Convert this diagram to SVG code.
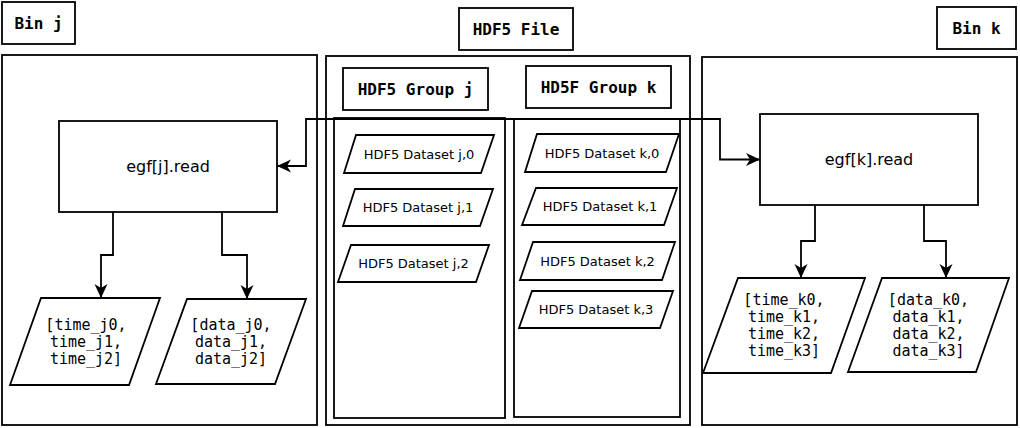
<svg xmlns="http://www.w3.org/2000/svg" width="1020" height="428" viewBox="0 0 1020 428">
<style>
.b{fill:#fff;stroke:#000;stroke-width:1.8}
.c{fill:none;stroke:#000;stroke-width:1.8}
.lb{font-family:"DejaVu Sans Mono",monospace;font-weight:bold;font-size:16px;fill:#000;text-anchor:middle;dominant-baseline:central}
.m{font-family:"DejaVu Sans Mono",monospace;font-size:15px;fill:#000;text-anchor:middle;dominant-baseline:central}
.s{font-family:"DejaVu Sans",sans-serif;font-size:16px;fill:#000;text-anchor:middle;dominant-baseline:central}
.d{font-family:"DejaVu Sans",sans-serif;font-size:13px;fill:#000;text-anchor:middle;dominant-baseline:central}
</style>
<defs>
<marker id="ar" markerUnits="userSpaceOnUse" markerWidth="16" markerHeight="16" viewBox="-15 -8 16 16" refX="0" refY="0" orient="auto">
<path d="M0,0 L-14,-6.5 L-10,0 L-14,6.5 Z" fill="#000"/>
</marker>
</defs>
<rect width="1020" height="428" fill="#fff"/>
<g id="bin-j">
<rect class="b" x="2" y="55" width="315" height="370"/>
</g>
<g id="bin-j-label"><rect class="b" x="2" y="2" width="73" height="42"/><text class="lb" x="38.5" y="23">Bin j</text></g>
<g id="hdf5-file">
<rect class="b" x="326" y="56" width="364" height="369"/>
</g>
<g id="hdf5-file-label"><rect class="b" x="459" y="8" width="114" height="42"/><text class="lb" x="516" y="29">HDF5 File</text></g>
<g id="bin-k">
<rect class="b" x="702" y="57" width="315" height="368"/>
</g>
<g id="bin-k-label"><rect class="b" x="937" y="7" width="79" height="42"/><text class="lb" x="976.5" y="28">Bin k</text></g>
<g id="group-j"><rect class="b" x="334" y="118" width="171" height="300"/></g>
<g id="group-k"><rect class="b" x="514" y="119" width="166" height="298"/></g>
<g id="group-j-label"><rect class="b" x="343" y="68" width="145" height="42"/><text class="lb" x="415.5" y="89">HDF5 Group j</text></g>
<g id="group-k-label"><rect class="b" x="526" y="66" width="145" height="42"/><text class="lb" x="598.5" y="87">HD5F Group k</text></g>
<g id="conn">
<path class="c" d="M512 119 L306 119 L306 166 L277 166" marker-end="url(#ar)"/>
<path class="c" d="M512 119 L720 119 L720 159.5 L760 159.5" marker-end="url(#ar)"/>
<path class="c" d="M113 212 L113 255 L101 255 L101 298" marker-end="url(#ar)"/>
<path class="c" d="M222 212 L222 255 L247 255 L247 299" marker-end="url(#ar)"/>
<path class="c" d="M815 205 L815 241 L801 241 L801 278" marker-end="url(#ar)"/>
<path class="c" d="M924 205 L924 241 L946 241 L946 278" marker-end="url(#ar)"/>
</g>
<g id="ds-j0"><polygon class="b" points="356,135 494,135 481,173 344,173"/><text class="d" x="419" y="154">HDF5 Dataset j,0</text></g>
<g id="ds-j1"><polygon class="b" points="355,189 493,189 480,226 343,226"/><text class="d" x="418" y="207.5">HDF5 Dataset j,1</text></g>
<g id="ds-j2"><polygon class="b" points="351,245 489,245 476,282 338,282"/><text class="d" x="413.5" y="263.5">HDF5 Dataset j,2</text></g>
<g id="ds-k0"><polygon class="b" points="537,134 679,134 666,172 525,172"/><text class="d" x="602" y="153">HDF5 Dataset k,0</text></g>
<g id="ds-k1"><polygon class="b" points="536,188 677,188 664,225 522,225"/><text class="d" x="600" y="206.5">HDF5 Dataset k,1</text></g>
<g id="ds-k2"><polygon class="b" points="533,242 675,242 662,280 520,280"/><text class="d" x="597.5" y="261">HDF5 Dataset k,2</text></g>
<g id="ds-k3"><polygon class="b" points="532,291 673,291 660,328 519,328"/><text class="d" x="596" y="309.5">HDF5 Dataset k,3</text></g>
<g id="read-j"><rect class="b" x="59" y="121" width="218" height="91"/><text class="s" x="168" y="166.5">egf[j].read</text></g>
<g id="read-k"><rect class="b" x="760" y="114" width="218" height="91"/><text class="s" x="869" y="159.5">egf[k].read</text></g>
<g id="time-j"><polygon class="b" points="41,298 160,298 129,385 10,385"/><text class="m" x="86"><tspan x="86" y="324.5">[time_j0,</tspan><tspan x="86" y="341.5">time_j1,</tspan><tspan x="86" y="358.5">time_j2]</tspan></text></g>
<g id="data-j"><polygon class="b" points="187,299 306,299 275,384 156,384"/><text class="m" x="231"><tspan x="231" y="324.5">[data_j0,</tspan><tspan x="231" y="341.5">data_j1,</tspan><tspan x="231" y="358.5">data_j2]</tspan></text></g>
<g id="time-k"><polygon class="b" points="738,278 865,278 831,373 703,373"/><text class="m" x="784"><tspan x="784" y="299.5">[time_k0,</tspan><tspan x="784" y="316.5">time_k1,</tspan><tspan x="784" y="333.5">time_k2,</tspan><tspan x="784" y="350.5">time_k3]</tspan></text></g>
<g id="data-k"><polygon class="b" points="882,278 1009,278 976,372 848,372"/><text class="m" x="928.5"><tspan x="928.5" y="299.5">[data_k0,</tspan><tspan x="928.5" y="316.5">data_k1,</tspan><tspan x="928.5" y="333.5">data_k2,</tspan><tspan x="928.5" y="350.5">data_k3]</tspan></text></g>
</svg>
